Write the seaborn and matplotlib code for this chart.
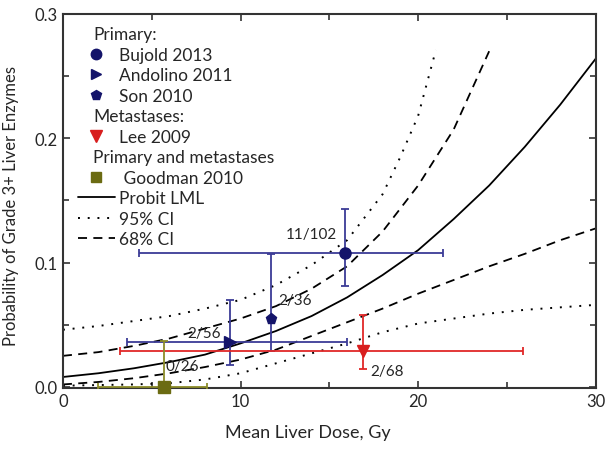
import numpy as np
import pandas as pd
import seaborn as sns
import matplotlib.pyplot as plt
from matplotlib.lines import Line2D
from matplotlib.ticker import MultipleLocator

# model curves
dose = [0, 2, 4, 6, 8, 10, 12, 14, 16, 18, 20, 22, 24, 26, 28, 30]
probit = [0.008, 0.011, 0.015, 0.020, 0.026, 0.035, 0.045, 0.057, 0.072, 0.090,
          0.110, 0.135, 0.162, 0.193, 0.227, 0.264]
ci68_hi_dose = [0, 2, 4, 6, 8, 10, 12, 14, 16, 18, 20, 22, 24]
ci68_hi = [0.025, 0.028, 0.033, 0.039, 0.047, 0.055, 0.065, 0.079, 0.097, 0.125,
           0.162, 0.207, 0.270]
ci68_lo = [0.002, 0.004, 0.007, 0.011, 0.016, 0.022, 0.030, 0.041, 0.052, 0.063,
           0.075, 0.086, 0.097, 0.107, 0.118, 0.1275]
ci95_hi_dose = [0, 2, 4, 6, 8, 10, 12, 14, 16, 18, 19, 20, 21]
ci95_hi = [0.046, 0.049, 0.053, 0.057, 0.063, 0.070, 0.082, 0.098, 0.118, 0.155,
           0.185, 0.218, 0.271]
ci95_lo = [0.001, 0.0015, 0.002, 0.003, 0.006, 0.011, 0.019, 0.027, 0.035, 0.044,
           0.051, 0.055, 0.059, 0.062, 0.064, 0.066]

# studies: name, mean dose, prob, x-range, y-range, label
studies = ['Bujold 2013', 'Andolino 2011', 'Son 2010', 'Lee 2009', 'Goodman 2010']
study_x = [15.9, 9.4, 11.7, 16.9, 5.7]
study_y = [0.1075, 0.036, 0.055, 0.029, 0.0]
x_lo = [4.3, 3.6, None, 3.2, 2.0]
x_hi = [21.4, 16.0, None, 25.9, 8.1]
y_lo = [0.081, 0.018, 0.029, 0.0145, 0.0]
y_hi = [0.143, 0.070, 0.107, 0.058, 0.037]
ratios = ['11/102', '2/56', '2/36', '2/68', '0/26']
markers = ['o', '>', 'p', 'v', 's']
mcolors = ['#14146a', '#14146a', '#14146a', '#d81e1e', '#6b6b12']
bcolors = ['#3c3c96', '#3c3c96', '#3c3c96', '#e02828', '#8c8c2a']

sns.set_style('ticks')
plt.rcParams['font.family'] = ['Lato', 'DejaVu Sans']

fig = plt.figure(figsize=(6.11, 4.52), dpi=100)
ax = fig.add_axes([0.103, 0.139, 0.872, 0.828])

curves = pd.DataFrame({'dose': dose, 'probit': probit, 'lo68': ci68_lo, 'lo95': ci95_lo})
hi68 = pd.DataFrame({'dose': ci68_hi_dose, 'p': ci68_hi})
hi95 = pd.DataFrame({'dose': ci95_hi_dose, 'p': ci95_hi})

sns.lineplot(data=curves, x='dose', y='probit', color='black', lw=1.3, ax=ax)
sns.lineplot(data=curves, x='dose', y='lo68', color='black', lw=1.3,
             linestyle=(0, (5, 3.5)), ax=ax)
sns.lineplot(data=hi68, x='dose', y='p', color='black', lw=1.3,
             linestyle=(0, (5, 3.5)), ax=ax)
sns.lineplot(data=curves, x='dose', y='lo95', color='black', lw=1.4,
             linestyle=(0, (1, 4)), ax=ax)
sns.lineplot(data=hi95, x='dose', y='p', color='black', lw=1.4,
             linestyle=(0, (1, 4)), ax=ax)

for i in range(len(studies)):
    x, y = study_x[i], study_y[i]
    xerr = None
    if x_lo[i] is not None:
        xerr = [[x - x_lo[i]], [x_hi[i] - x]]
    yerr = [[y - y_lo[i]], [y_hi[i] - y]]
    ax.errorbar([x], [y], xerr=xerr, yerr=yerr, fmt='none', ecolor=bcolors[i],
                elinewidth=1.3, capsize=3, capthick=1.3, zorder=3)
    ax.plot([x], [y], marker=markers[i], color=mcolors[i], ms=8,
            linestyle='none', zorder=4, clip_on=False)

# ratio labels
ax.text(15.45, 0.123, ratios[0], ha='right', va='center', fontsize=11)
ax.text(7.0, 0.043, ratios[1], ha='left', va='center', fontsize=11)
ax.text(12.1, 0.070, ratios[2], ha='left', va='center', fontsize=11)
ax.text(17.3, 0.013, ratios[3], ha='left', va='center', fontsize=11)
ax.text(5.8, 0.017, ratios[4], ha='left', va='center', fontsize=11)

ax.set_xlim(0, 30)
ax.set_ylim(-0.001, 0.3)
ax.xaxis.set_major_locator(MultipleLocator(10))
ax.xaxis.set_minor_locator(MultipleLocator(5))
ax.yaxis.set_major_locator(MultipleLocator(0.1))
ax.yaxis.set_minor_locator(MultipleLocator(0.05))
ax.yaxis.set_major_formatter(plt.FormatStrFormatter('%.1f'))
ax.tick_params(which='both', direction='in', top=True, right=True,
               color='#333333', labelsize=12)
ax.tick_params(which='major', length=5, width=1.2)
ax.tick_params(which='minor', length=4, width=1.2)
for s in ax.spines.values():
    s.set_linewidth(1.5)
    s.set_color('#333333')
ax.set_xlabel('Mean Liver Dose, Gy', fontsize=13)
ax.set_ylabel('Probability of Grade 3+ Liver Enzymes', fontsize=12)
ax.xaxis.set_label_coords(0.46, -0.095)
ax.yaxis.set_label_coords(-0.083, 0.49)

blank = Line2D([], [], linestyle='none')
handles = [blank,
           Line2D([], [], marker='o', color=mcolors[0], ls='none', ms=7.5),
           Line2D([], [], marker='>', color=mcolors[1], ls='none', ms=7.5),
           Line2D([], [], marker='p', color=mcolors[2], ls='none', ms=7.5),
           blank,
           Line2D([], [], marker='v', color=mcolors[3], ls='none', ms=8),
           blank,
           Line2D([], [], marker='s', color=mcolors[4], ls='none', ms=7),
           Line2D([], [], color='black', lw=1.3),
           Line2D([], [], color='black', lw=1.4, ls=(0, (1, 4))),
           Line2D([], [], color='black', lw=1.3, ls=(0, (5, 3.5)))]
labels = ['Primary:', 'Bujold 2013', 'Andolino 2011', 'Son 2010', 'Metastases:',
          'Lee 2009', 'Primary and metastases', ' Goodman 2010', 'Probit LML',
          '95% CI', '68% CI']
headers = ['Primary:', 'Metastases:', 'Primary and metastases']
leg = ax.legend(handles, labels, loc='upper left', frameon=False, fontsize=12.5,
                handlelength=2.13, handletextpad=0.25, labelspacing=0.26,
                borderaxespad=0.3, bbox_to_anchor=(0.005, 1.0))
for vpack in leg._legend_handle_box.get_children():
    for hpack in vpack.get_children():
        hbox, txt = hpack.get_children()
        if txt.get_text() in headers:
            hbox.set_width(8)

fig.savefig('out.png', dpi=100)
